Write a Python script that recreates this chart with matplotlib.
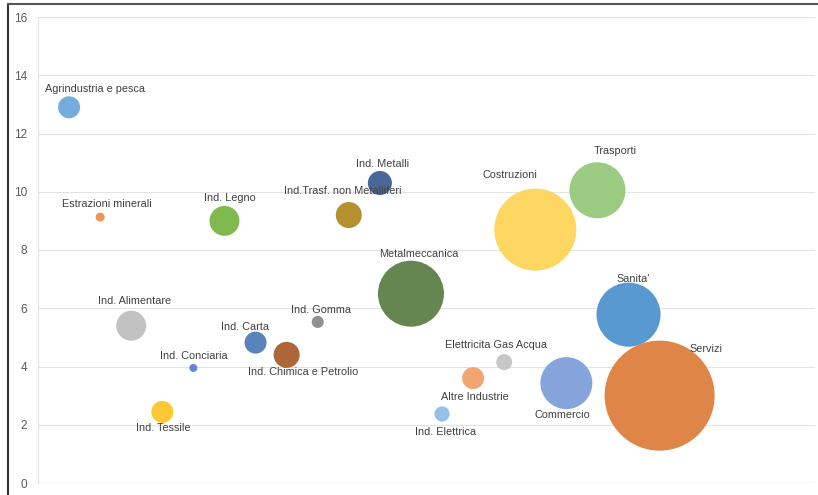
import matplotlib.pyplot as plt
from matplotlib.lines import Line2D

# settori, ordine sull'asse x (1..20)
settori = ["Agrindustria e pesca", "Estrazioni minerali", "Ind. Alimentare", "Ind. Tessile",
           "Ind. Conciaria", "Ind. Legno", "Ind. Carta", "Ind. Chimica e Petrolio",
           "Ind. Gomma", "Ind.Trasf. non Metalliferi", "Ind. Metalli", "Metalmeccanica",
           "Ind. Elettrica", "Altre Industrie", "Elettricita Gas Acqua", "Costruzioni",
           "Commercio", "Trasporti", "Sanita'", "Servizi"]
posizione = list(range(1, 21))
valore = [12.9, 9.13, 5.4, 2.44, 3.95, 9.0, 4.82, 4.4, 5.53, 9.2, 10.3, 6.5,
          2.37, 3.6, 4.15, 8.7, 3.43, 10.05, 5.78, 3.0]
dimensione = [4.0, 0.67, 7.4, 4.0, 0.53, 7.4, 4.0, 5.6, 1.2, 5.6, 4.8, 36.0,
              1.9, 4.0, 2.1, 55.6, 22.3, 25.9, 33.9, 100.0]

colori = ["#6fa8dc", "#f08f4f", "#bfbfbf", "#fcc62a", "#5b82d0", "#7ab648", "#4f7db5",
          "#a95e2d", "#8a8a8a", "#b08a23", "#3f5f94", "#5e8047", "#8fbde6", "#f2a06a",
          "#c4c4c4", "#fdd55a", "#7f9fdb", "#96c97a", "#4f94d0", "#dd7f3d"]
# spostamento etichette (pixel)
spost = [(26, 18), (7, 13), (3, 25), (1, -16), (0, 12), (5, 23), (-11, 16), (16, -17),
         (3, 12), (-6, 24), (3, 19), (8, 40), (4, -18), (2, -19), (-8, 17), (-25, 55),
         (-4, -32), (18, 39), (5, 36), (46, 47)]

plt.rcParams['font.family'] = ['Liberation Sans', 'DejaVu Sans']

fig = plt.figure(figsize=(8.18, 4.95), dpi=100)
ax = fig.add_axes([38 / 818, 12 / 495, 777 / 818, 466 / 495])

scala = 6273 / 100
ax.scatter(posizione, valore, s=[d * scala for d in dimensione], c=colori,
           alpha=0.95, linewidths=0, zorder=3)

for x, y, nome, (dx, dy) in zip(posizione, valore, settori, spost):
    ax.annotate(nome, (x, y), xytext=(dx, dy), textcoords='offset pixels',
                ha='center', va='center', fontsize=7.8, color='#404040', zorder=4)

ax.set_xlim(0, 25)
ax.set_ylim(0, 16)
ax.set_yticks(range(0, 17, 2))
ax.set_xticks([])
ax.tick_params(axis='y', length=0, pad=8, labelsize=8.5, labelcolor='#595959')
ax.grid(axis='y', color='#e3e3e3', linewidth=0.8, zorder=0)
ax.axhline(0, color='#e3e3e3', linewidth=1.0, zorder=0)
for s in ['top', 'right', 'bottom']:
    ax.spines[s].set_visible(False)
ax.spines['left'].set_color('#e6e6e6')
ax.spines['left'].set_linewidth(0.8)

# bordo esterno
fig.add_artist(Line2D([8 / 818, 8 / 818], [0, 491 / 495], color='#333333', linewidth=1.5))
fig.add_artist(Line2D([8 / 818, 1], [491 / 495, 491 / 495], color='#555555', linewidth=1.5))

fig.savefig("out.png", dpi=100)
